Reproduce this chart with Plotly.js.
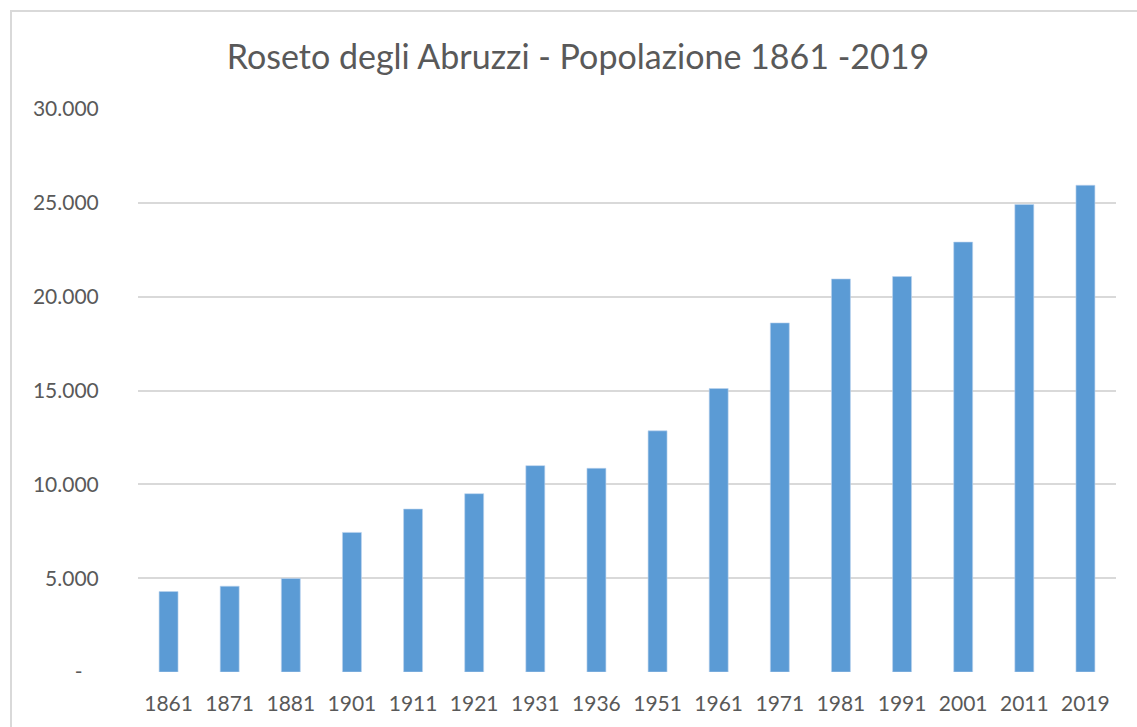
<!DOCTYPE html>
<html>
<head>
<meta charset="utf-8">
<script src="https://cdn.plot.ly/plotly-3.0.1.min.js"></script>
<style>
  html, body { margin: 0; padding: 0; background: #ffffff; overflow: hidden; }
  #frame { position: absolute; left: 10px; top: 10px; width: 1136px; height: 732px; border: 2px solid #d9d9d9; background: #fff; }
  #chart { width: 1132px; height: 730px; }
</style>
</head>
<body>
<div id="frame"><div id="chart"></div></div>
<script>
const years = ['1861','1871','1881','1901','1911','1921','1931','1936','1951','1961','1971','1981','1991','2001','2011','2019'];
const population = [4288, 4573, 4982, 7438, 8683, 9502, 10996, 10854, 12851, 15105, 18601, 20944, 21071, 22909, 24910, 25937];
const yTickVals = [0, 5000, 10000, 15000, 20000, 25000, 30000];
const yTickText = ['-\u00a0\u00a0\u00a0', '5.000', '10.000', '15.000', '20.000', '25.000', '30.000'];
const chartTitle = 'Roseto degli Abruzzi - Popolazione 1861 -2019';

const FONT = 'Lato, "Open Sans", "Liberation Sans", sans-serif';
const GREY = '#595959';

const trace = {
  type: 'bar',
  x: years,
  y: population,
  marker: { color: '#5b9bd5', line: { color: '#bcd4ee', width: 0.6 } },
  hoverinfo: 'x+y'
};

const layout = {
  width: 1132,
  height: 730,
  paper_bgcolor: '#ffffff',
  plot_bgcolor: '#ffffff',
  margin: { l: 126, r: 28, t: 97, b: 70 },
  bargap: 0.69,
  showlegend: false,
  separators: ',.',
  title: {
    text: chartTitle,
    font: { family: FONT, size: 34, color: GREY },
    x: 0.5, xref: 'container', xanchor: 'center',
    y: 1 - 45 / 730, yref: 'container', yanchor: 'middle'
  },
  xaxis: {
    type: 'category',
    tickfont: { family: FONT, size: 21, color: GREY },
    ticks: 'outside', ticklen: 13, tickcolor: 'rgba(0,0,0,0)',
    showgrid: false, zeroline: false, showline: false
  },
  yaxis: {
    range: [0, 30000],
    tickvals: yTickVals,
    ticktext: yTickText,
    tickfont: { family: FONT, size: 21, color: GREY },
    ticks: 'outside', ticklen: 34, tickcolor: 'rgba(0,0,0,0)',
    showgrid: true, gridcolor: '#d9d9d9', gridwidth: 2,
    zeroline: false, showline: false
  }
};

Plotly.newPlot('chart', [trace], layout, { displayModeBar: false, staticPlot: true });
</script>
</body>
</html>
